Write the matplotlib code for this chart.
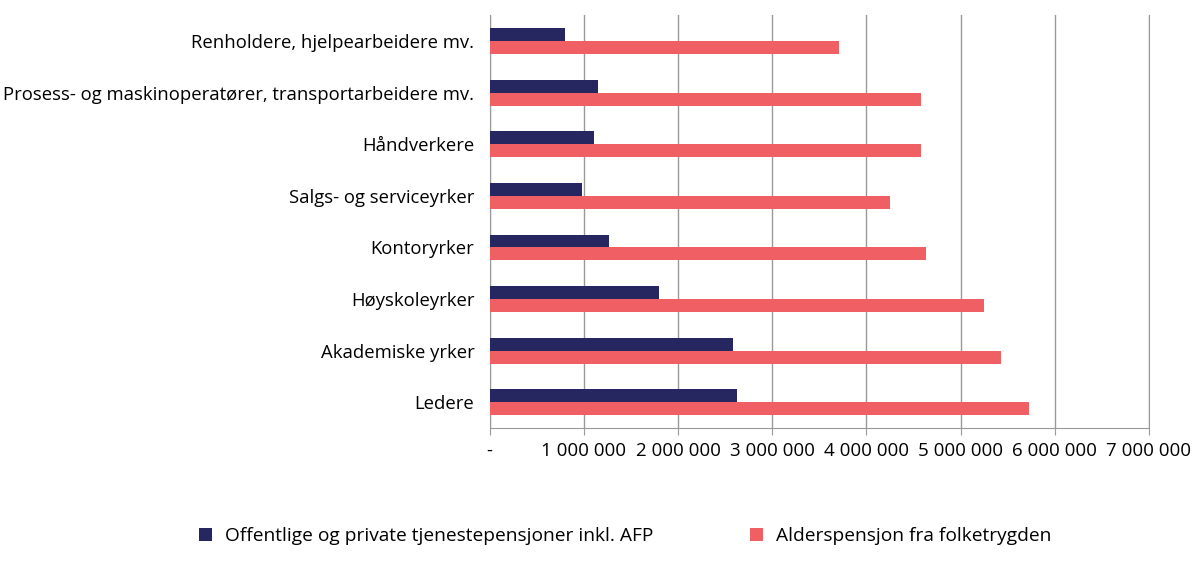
import numpy as np
import matplotlib.pyplot as plt
from matplotlib.ticker import FuncFormatter

categories = [
    "Renholdere, hjelpearbeidere mv.",
    "Prosess- og maskinoperatører, transportarbeidere mv.",
    "Håndverkere",
    "Salgs- og serviceyrker",
    "Kontoryrker",
    "Høyskoleyrker",
    "Akademiske yrker",
    "Ledere",
]
tjenestepensjon = [805000, 1150000, 1105000, 985000, 1270000, 1800000, 2580000, 2630000]
folketrygd = [3705000, 4580000, 4580000, 4250000, 4635000, 5250000, 5430000, 5730000]

series_labels = ["Offentlige og private tjenestepensjoner inkl. AFP",
                 "Alderspensjon fra folketrygden"]
DARK = "#262660"
RED = "#F05F64"
GRID = "#999999"

plt.rcParams['font.family'] = ['Open Sans', 'DejaVu Sans']

fig = plt.figure(figsize=(12, 5.64), dpi=100)
ax = fig.add_axes([0.408, 0.241, 0.5495, 0.732])

y = np.arange(len(categories))
h = 0.25
ax.barh(y - h / 2, tjenestepensjon, height=h, color=DARK, label=series_labels[0], zorder=3)
ax.barh(y + h / 2, folketrygd, height=h, color=RED, label=series_labels[1], zorder=3)

ax.set_ylim(len(categories) - 0.5, -0.5)
ax.set_yticks(y)
ax.set_yticklabels(categories, fontsize=13.3)
ax.tick_params(axis='y', length=0, pad=11)

ax.set_xlim(0, 7000000)
ax.set_xticks(np.arange(0, 7000001, 1000000))
ax.xaxis.set_major_formatter(FuncFormatter(
    lambda v, p: "-" if v == 0 else f"{int(v):,}".replace(",", " ")))
ax.tick_params(axis='x', labelsize=13.5, length=5, color=GRID, pad=5)

ax.grid(axis='x', color=GRID, linewidth=1, zorder=0)
ax.spines['top'].set_visible(False)
for s in ['left', 'bottom', 'right']:
    ax.spines[s].set_color(GRID)

fig.legend(loc='center', bbox_to_anchor=(0.521, 1 - 536 / 564), ncol=2,
           frameon=False, fontsize=13.8, handlelength=0.7, handleheight=0.7,
           handletextpad=0.7, columnspacing=5.0)

fig.savefig("out.png", dpi=100)
